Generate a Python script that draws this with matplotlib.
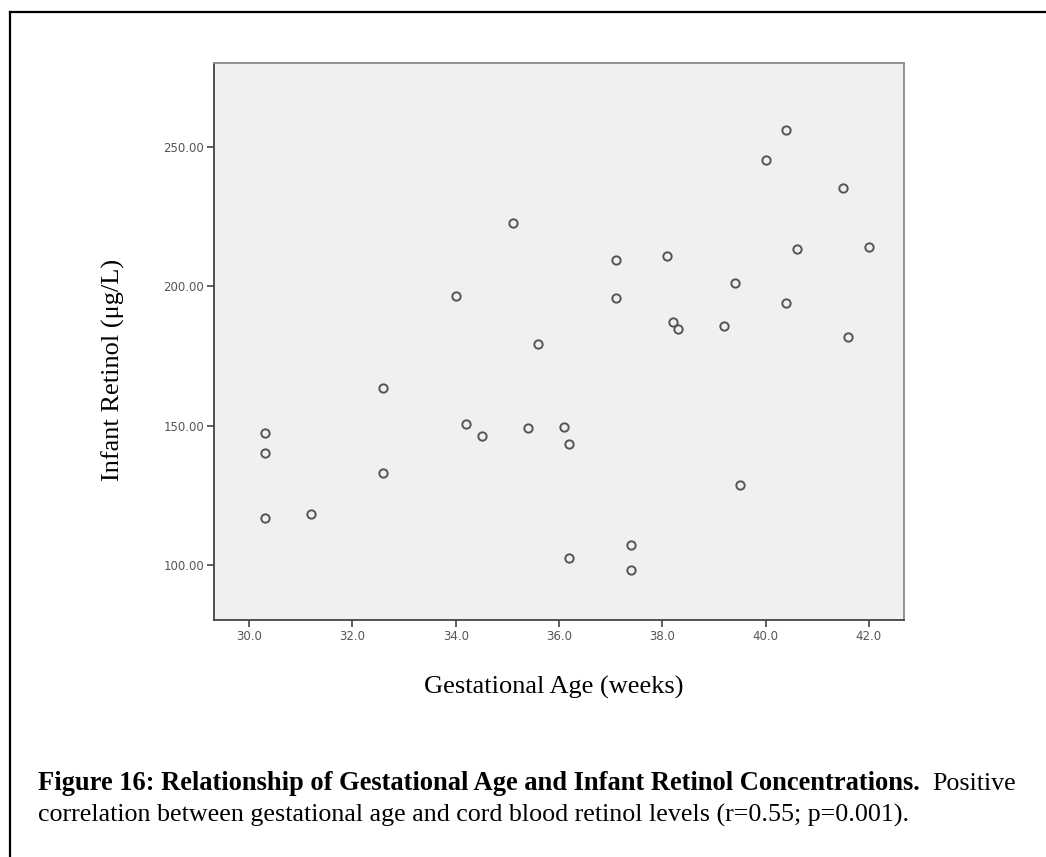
import matplotlib
matplotlib.use("Agg")
import matplotlib.pyplot as plt
from matplotlib.lines import Line2D

# data
gest_age = [30.3, 30.3, 30.3, 31.2, 32.6, 32.6, 34.0, 34.2, 34.5, 35.1, 35.4,
            35.6, 36.1, 36.2, 36.2, 37.1, 37.1, 37.4, 37.4, 38.1, 38.2, 38.3,
            39.2, 39.4, 39.5, 40.0, 40.4, 40.4, 40.6, 41.5, 41.6, 42.0]
retinol = [147.4, 140.3, 116.9, 118.2, 163.3, 133.1, 196.3, 150.7, 146.2, 222.8, 149.0,
           179.1, 149.4, 143.3, 102.6, 209.3, 195.8, 107.1, 98.2, 210.8, 187.0, 184.6,
           185.6, 201.2, 128.6, 245.1, 255.9, 193.8, 213.4, 235.3, 181.9, 214.2]
x_ticks = [30.0, 32.0, 34.0, 36.0, 38.0, 40.0, 42.0]
y_ticks = [100.0, 150.0, 200.0, 250.0]

fig = plt.figure(figsize=(10.46, 8.57), dpi=100)
W, H = 1046, 857

# axes placed to match the scanned figure (pixels -> fraction)
ax = fig.add_axes([214 / W, 1 - 620 / H, (904 - 214) / W, (620 - 63) / H])
ax.set_facecolor("#f0f0f0")
ax.plot(gest_age, retinol, linestyle="none", marker="o", markersize=6,
        markerfacecolor="none", markeredgecolor="#555555", markeredgewidth=1.4)

ax.set_xlim(29.32, 42.68)
ax.set_ylim(80.3, 280)
ax.set_xticks(x_ticks)
ax.set_xticklabels(["%.1f" % v for v in x_ticks])
ax.set_yticks(y_ticks)
ax.set_yticklabels(["%.2f" % v for v in y_ticks])
ax.tick_params(axis="both", direction="out", length=5, width=1.2, color="#444444",
               labelsize=8.5, labelcolor="#555555", pad=2)

for side in ["left", "bottom"]:
    ax.spines[side].set_color("#444444")
    ax.spines[side].set_linewidth(1.3)
for side in ["top", "right"]:
    ax.spines[side].set_color("#8a8a8a")
    ax.spines[side].set_linewidth(1.3)

serif = ["Liberation Serif", "DejaVu Serif"]
fig.text(554 / W, 1 - 687 / H, "Gestational Age (weeks)", family=serif,
         fontsize=19, ha="center", va="center")
fig.text(113 / W, 1 - 370 / H, "Infant Retinol (\u03bcg/L)", family=serif,
         fontsize=19, rotation=90, ha="center", va="center")

# caption under the chart
cap_size = 18.7
t1 = fig.text(38 / W, 1 - 784 / H, "Figure 16: Relationship of Gestational Age and Infant Retinol Concentrations.",
              family=serif, fontsize=19.1, fontweight="bold", ha="left", va="center")
fig.canvas.draw()
bb = t1.get_window_extent()
fig.text((bb.x1 + 13) / W, 1 - 784 / H, "Positive", family=serif, fontsize=cap_size,
         ha="left", va="center")
fig.text(38 / W, 1 - 815 / H,
         "correlation between gestational age and cord blood retinol levels (r=0.55; p=0.001).",
         family=serif, fontsize=cap_size, ha="left", va="center")

# page frame (top and left edges visible)
fig.add_artist(Line2D([9.5 / W, 1], [1 - 12 / H, 1 - 12 / H], color="black", lw=1.6))
fig.add_artist(Line2D([9.5 / W, 9.5 / W], [0, 1 - 12 / H], color="black", lw=1.6))

fig.savefig("out.png", dpi=100)
